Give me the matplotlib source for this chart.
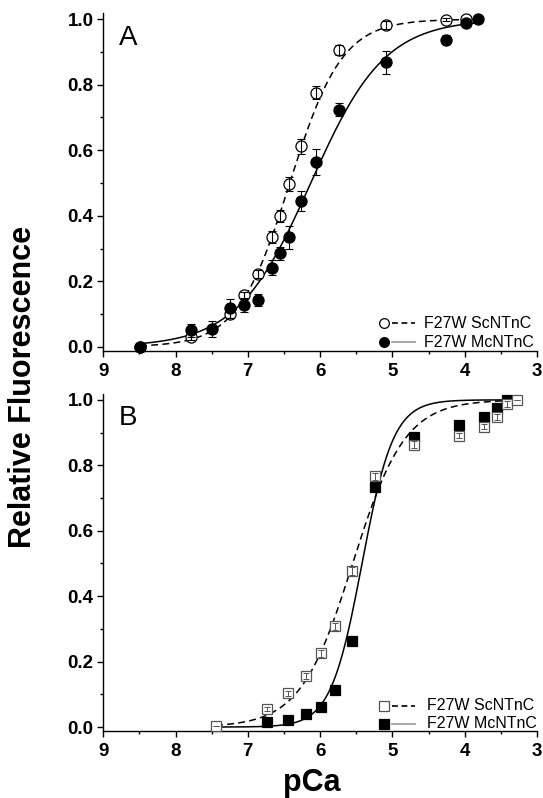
import numpy as np
import matplotlib
matplotlib.use("Agg")
import matplotlib.pyplot as plt
from matplotlib.ticker import MultipleLocator, FormatStrFormatter

plt.rcParams['font.family'] = ['Liberation Sans', 'DejaVu Sans']

# ---------------- Panel A data ----------------
a_open_pca = [8.49, 7.78, 7.25, 7.06, 6.86, 6.67, 6.56, 6.43, 6.27, 6.06, 5.74, 5.09, 4.26, 3.98]
a_open_y   = [0.000, 0.030, 0.100, 0.158, 0.221, 0.336, 0.400, 0.497, 0.612, 0.776, 0.907, 0.982, 0.999, 1.000]
a_open_err = [0.000, 0.010, 0.012, 0.010, 0.012, 0.018, 0.018, 0.020, 0.022, 0.020, 0.015, 0.012, 0.005, 0.000]

a_fill_pca = [8.49, 7.78, 7.49, 7.25, 7.06, 6.86, 6.67, 6.56, 6.43, 6.27, 6.06, 5.74, 5.09, 4.26, 3.98, 3.81]
a_fill_y   = [0.000, 0.051, 0.054, 0.117, 0.127, 0.143, 0.242, 0.285, 0.334, 0.445, 0.563, 0.724, 0.868, 0.938, 0.987, 1.000]
a_fill_err = [0.000, 0.020, 0.025, 0.030, 0.020, 0.018, 0.022, 0.020, 0.035, 0.030, 0.040, 0.020, 0.035, 0.015, 0.005, 0.000]

# Hill-fit parameters (pCa50, n, pCa range)
a_open_fit = (6.42, 1.2, 8.49, 3.98)
a_fill_fit = (6.13, 0.85, 8.49, 3.81)

# ---------------- Panel B data ----------------
b_open_pca = [7.44, 6.74, 6.44, 6.20, 5.99, 5.79, 5.56, 5.24, 4.70, 4.08, 3.73, 3.55, 3.42, 3.27]
b_open_y   = [0.002, 0.056, 0.103, 0.156, 0.225, 0.308, 0.476, 0.766, 0.863, 0.891, 0.918, 0.947, 0.988, 1.000]
b_open_err = [0.000, 0.006, 0.008, 0.010, 0.010, 0.010, 0.012, 0.010, 0.010, 0.008, 0.008, 0.010, 0.010, 0.000]

b_fill_pca = [6.74, 6.44, 6.20, 5.99, 5.79, 5.56, 5.24, 4.70, 4.08, 3.73, 3.55, 3.42]
b_fill_y   = [0.015, 0.021, 0.039, 0.062, 0.112, 0.262, 0.734, 0.888, 0.924, 0.949, 0.975, 1.000]
b_fill_err = [0.004, 0.004, 0.005, 0.006, 0.006, 0.010, 0.012, 0.008, 0.008, 0.008, 0.008, 0.004]

b_open_fit = (5.55, 1.2, 7.44, 3.35)
b_fill_fit = (5.42, 2.0, 7.44, 3.35)

legend_labels = ["F27W ScNTnC", "F27W McNTnC"]
x_ticks = [9, 8, 7, 6, 5, 4, 3]
y_ticks = [0.0, 0.2, 0.4, 0.6, 0.8, 1.0]


def hill(fit):
    p50, n, lo, hi = fit
    x = np.linspace(lo, hi, 300)
    return x, 1.0 / (1.0 + 10 ** (n * (x - p50)))


DASH = (0, (4.5, 2.8))

fig = plt.figure(figsize=(5.43, 7.98), dpi=100)
axA = fig.add_axes([0.1902, 0.5605, 0.7987, 0.4228])
axB = fig.add_axes([0.1902, 0.0840, 0.7987, 0.4223])


def style_axes(ax):
    ax.set_xlim(9, 3)
    ax.set_ylim(-0.012, 1.018)
    for s in ['top', 'right']:
        ax.spines[s].set_visible(False)
    for s in ['left', 'bottom']:
        ax.spines[s].set_linewidth(1.0)
    ax.set_xticks(x_ticks)
    ax.set_yticks(y_ticks)
    ax.xaxis.set_minor_locator(MultipleLocator(0.5))
    ax.yaxis.set_minor_locator(MultipleLocator(0.1))
    ax.yaxis.set_major_formatter(FormatStrFormatter('%.1f'))
    ax.xaxis.set_major_formatter(FormatStrFormatter('%d'))
    ax.tick_params(which='major', direction='out', length=4.5, width=1.0, labelsize=13.5)
    ax.tick_params(which='minor', direction='out', length=2.5, width=1.0)
    ax.tick_params(axis='y', pad=2.5)
    ax.tick_params(axis='x', pad=4)
    for lab in ax.get_xticklabels() + ax.get_yticklabels():
        lab.set_fontweight('bold')


def manual_legend(ax, marker, open_color, ms, rows_y, text_x):
    mx, l0, l1 = 0.648, 0.665, 0.719
    # open marker + dashed line
    ax.plot([mx], [rows_y[0]], marker=marker, ms=ms, mfc='white', mec=open_color,
            mew=0.9, transform=ax.transAxes, clip_on=False, ls='none')
    ax.plot([l0, l1], [rows_y[0]] * 2, color='black', lw=1.2, ls=(0, (3.5, 2.2)),
            transform=ax.transAxes, clip_on=False)
    ax.text(text_x, rows_y[0], legend_labels[0], fontsize=11.5, va='center', ha='left',
            transform=ax.transAxes)
    # filled marker + gray line
    ax.plot([mx], [rows_y[1]], marker=marker, ms=ms, mfc='black', mec='black',
            mew=0.9, transform=ax.transAxes, clip_on=False, ls='none')
    ax.plot([l0, l1], [rows_y[1]] * 2, color='#a0a0a0', lw=1.3,
            transform=ax.transAxes, clip_on=False)
    ax.text(text_x, rows_y[1], legend_labels[1], fontsize=11.5, va='center', ha='left',
            transform=ax.transAxes)


# ---------------- Panel A ----------------
style_axes(axA)
x, y = hill(a_open_fit)
axA.plot(x, y, color='black', lw=1.1, ls=DASH, zorder=2)
x, y = hill(a_fill_fit)
axA.plot(x, y, color='black', lw=1.1, zorder=2)
axA.plot(a_open_pca, a_open_y, 'o', ms=8, mfc='white', mec='black', mew=0.9, zorder=3, clip_on=False)
axA.plot(a_fill_pca, a_fill_y, 'o', ms=8, mfc='black', mec='black', mew=0.9, zorder=4, clip_on=False)
axA.errorbar(a_open_pca, a_open_y, yerr=a_open_err, fmt='none', ecolor='black',
             elinewidth=0.8, capsize=3, capthick=0.8, zorder=5)
axA.errorbar(a_fill_pca, a_fill_y, yerr=a_fill_err, fmt='none', ecolor='black',
             elinewidth=0.8, capsize=3, capthick=0.8, zorder=3.5)
axA.text(0.036, 0.906, 'A', fontsize=20, transform=axA.transAxes, ha='left', va='baseline')
manual_legend(axA, 'o', 'black', 7, (0.0812, 0.0249), 0.7395)

# ---------------- Panel B ----------------
style_axes(axB)
x, y = hill(b_open_fit)
axB.plot(x, y, color='black', lw=1.1, ls=DASH, zorder=2)
x, y = hill(b_fill_fit)
axB.plot(x, y, color='black', lw=1.1, zorder=2)
axB.plot(b_fill_pca, b_fill_y, 's', ms=7, mfc='black', mec='black', mew=0.9, zorder=3, clip_on=False)
axB.plot(b_open_pca, b_open_y, 's', ms=7, mfc='white', mec='#555555', mew=0.9, zorder=4, clip_on=False)
axB.errorbar(b_open_pca, b_open_y, yerr=b_open_err, fmt='none', ecolor='#555555',
             elinewidth=0.7, capsize=2, capthick=0.7, zorder=5)
axB.errorbar(b_fill_pca, b_fill_y, yerr=b_fill_err, fmt='none', ecolor='black',
             elinewidth=0.7, capsize=2, capthick=0.7, zorder=3.5)
axB.text(0.036, 0.908, 'B', fontsize=20, transform=axB.transAxes, ha='left', va='baseline')
manual_legend(axB, 's', '#555555', 6.5, (0.0742, 0.0208), 0.7457)

# ---------------- shared labels ----------------
fig.text(23 / 543, 1 - 386.5 / 798, 'Relative Fluorescence', rotation=90, fontsize=22,
         fontweight='bold', ha='center', va='center')
fig.text(312 / 543, 1 - 791 / 798, 'pCa', fontsize=22, fontweight='bold', ha='center', va='baseline')

fig.savefig('out.png', dpi=100)
